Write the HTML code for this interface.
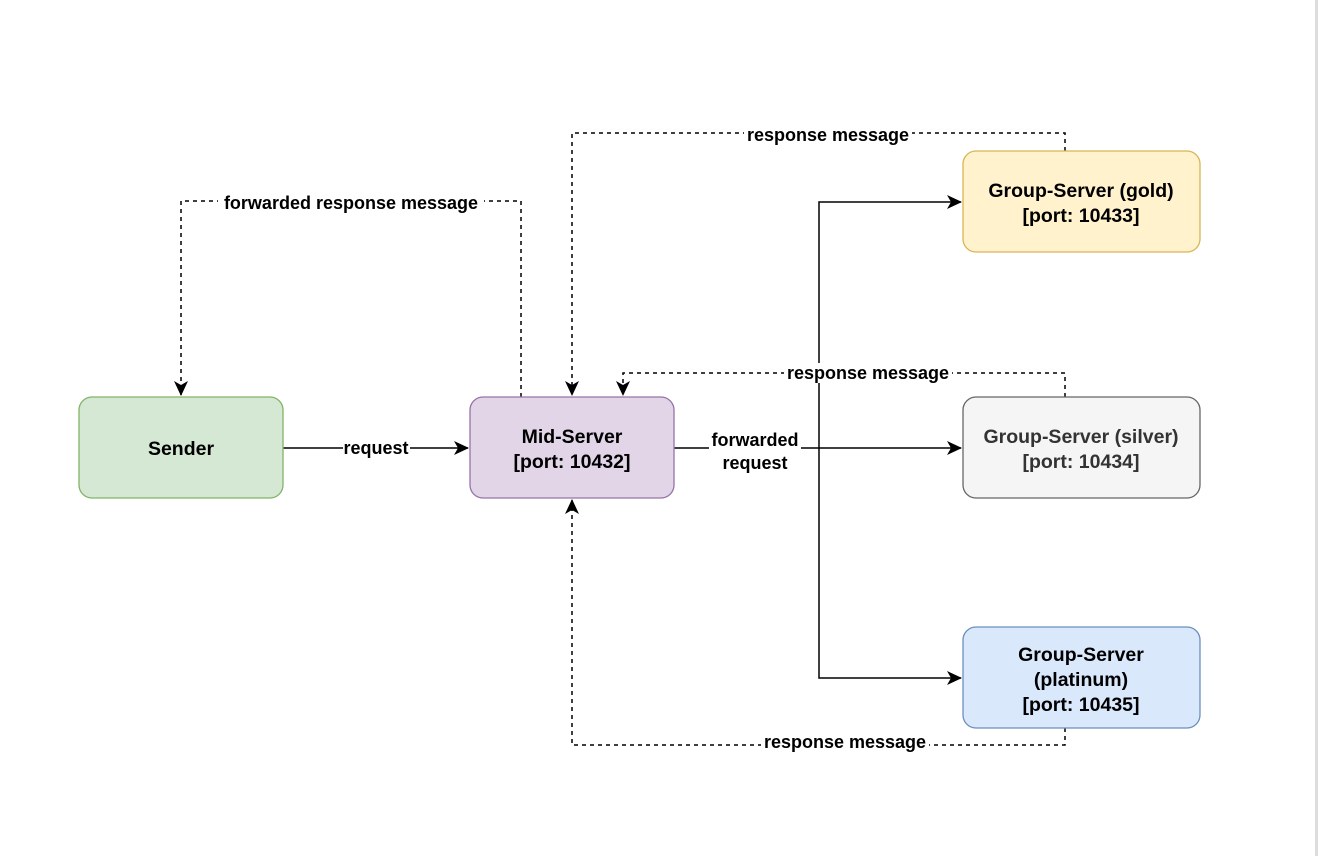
<!DOCTYPE html>
<html><head><meta charset="utf-8"><style>
html,body{margin:0;padding:0;background:#fff;}
svg{display:block;font-family:"Liberation Sans",Arial,sans-serif;font-weight:bold;}
</style></head><body>
<svg width="1318" height="856" viewBox="0 0 1318 856" xmlns="http://www.w3.org/2000/svg">
<defs>
<marker id="a" markerWidth="16" markerHeight="16" refX="14" refY="7" orient="auto" markerUnits="userSpaceOnUse">
<path d="M0,0 L15,7 L0,14 L4,7 Z" fill="#000"/>
</marker>
</defs>
<rect x="1315" y="0" width="3" height="856" fill="#ddd"/>
<g fill="none" stroke="#000" stroke-width="1.5">
<path d="M283,448 H468" marker-end="url(#a)"/>
<path d="M674,448 H961" marker-end="url(#a)"/>
<path d="M819,448 V202 H961" marker-end="url(#a)"/>
<path d="M819,448 V678 H961" marker-end="url(#a)"/>
<g stroke-dasharray="4,4">
<path d="M521,397 V201 H181 V395" marker-end="url(#a)"/>
<path d="M1065,151 V133 H572 V395" marker-end="url(#a)"/>
<path d="M1065,397 V373 H623 V395" marker-end="url(#a)"/>
<path d="M1065,728 V745 H572 V500" marker-end="url(#a)"/>
</g>
</g>
<g stroke-width="1.3">
<rect x="79" y="397" width="204" height="101" rx="13" fill="#d5e8d4" stroke="#82b366"/>
<rect x="470" y="397" width="204" height="101" rx="13" fill="#e1d5e7" stroke="#9673a6"/>
<rect x="963" y="151" width="237" height="101" rx="13" fill="#fff2cc" stroke="#d6b656"/>
<rect x="963" y="397" width="237" height="101" rx="13" fill="#f5f5f5" stroke="#666"/>
<rect x="963" y="627" width="237" height="101" rx="13" fill="#dae8fc" stroke="#6c8ebf"/>
</g>
<g font-size="19.5" text-anchor="middle" fill="#000">
<text x="181" y="455">Sender</text>
<text x="572" y="443">Mid-Server</text>
<text x="572" y="468">[port: 10432]</text>
<text x="1081" y="197">Group-Server (gold)</text>
<text x="1081" y="222">[port: 10433]</text>
<g fill="#333"><text x="1081" y="443">Group-Server (silver)</text>
<text x="1081" y="468">[port: 10434]</text></g>
<text x="1081" y="661">Group-Server</text>
<text x="1081" y="686">(platinum)</text>
<text x="1081" y="711">[port: 10435]</text>
</g>
<g font-size="18" text-anchor="middle">
<rect x="343" y="438" width="67" height="20" fill="#fff"/>
<text x="376" y="454">request</text>
<rect x="709" y="430" width="92" height="44" fill="#fff"/>
<text x="755" y="446">forwarded</text>
<text x="755" y="469">request</text>
<rect x="218" y="192" width="266" height="20" fill="#fff"/>
<text x="351" y="209">forwarded response message</text>
<rect x="744" y="124" width="168" height="20" fill="#fff"/>
<text x="828" y="141">response message</text>
<rect x="784" y="363" width="168" height="20" fill="#fff"/>
<text x="868" y="379">response message</text>
<rect x="761" y="733" width="168" height="20" fill="#fff"/>
<text x="845" y="748">response message</text>
</g>
</svg>
</body></html>
